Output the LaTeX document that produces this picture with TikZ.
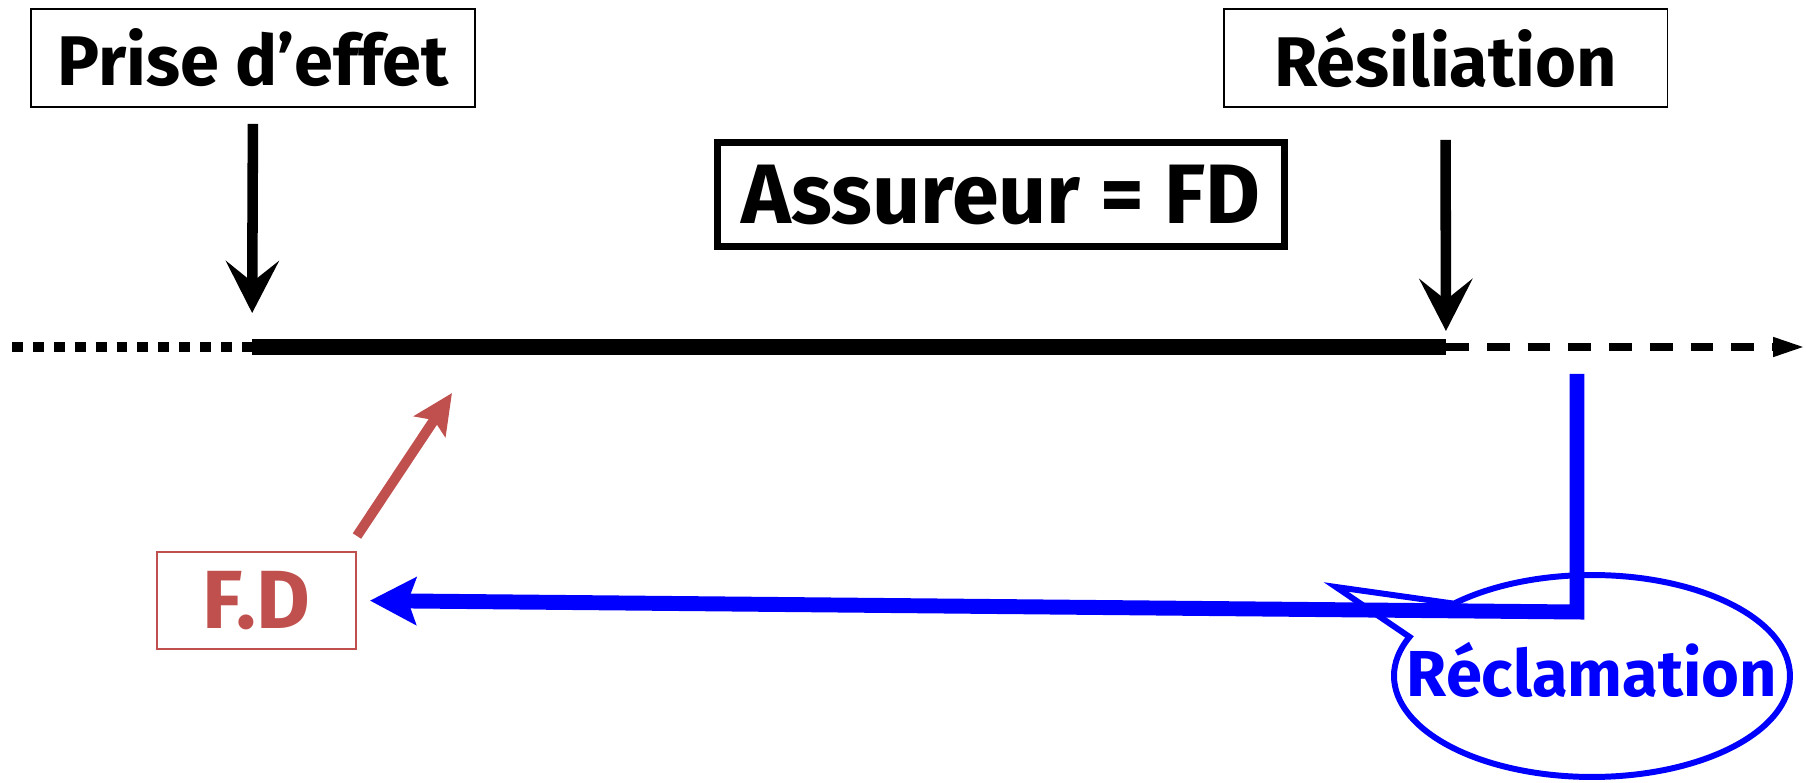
\documentclass[tikz,border=0pt]{standalone}
\usepackage{fontspec}
\setmainfont{Fira Sans}
\usetikzlibrary{arrows.meta,shapes.callouts}
\definecolor{fdred}{RGB}{192,80,77}
\definecolor{reclblue}{RGB}{0,0,255}

\begin{document}
\begin{tikzpicture}[
  x=0.02cm, y=-0.02cm,
  every node/.style={font=\fontsize{40}{44}\selectfont\bfseries},
  datebox/.style={draw, line width=1.1pt, inner sep=0pt,
    minimum width=8.88cm, minimum height=1.96cm},
  rolebox/.style={draw, line width=4pt, inner sep=0pt,
    minimum width=11.34cm, minimum height=2.08cm,
    font=\fontsize{48}{52}\selectfont\bfseries},
  fdbox/.style={draw=fdred, text=fdred, line width=1.1pt, inner sep=0pt,
    minimum width=3.98cm, minimum height=1.94cm,
    font=\fontsize{47}{50}\selectfont\bfseries},
  claim/.style={ellipse callout, draw=reclblue, text=reclblue,
    line width=3.4pt, inner sep=0pt, callout pointer arc=23,
    minimum width=7.92cm, minimum height=4.04cm,
    font=\fontsize{37}{40}\selectfont\bfseries},
  downarr/.style={-{Stealth[length=1.04cm, width=1.06cm, inset=0.42cm]}, line width=6pt},
  bluearr/.style={-{Stealth[length=0.92cm, width=0.94cm, inset=0.16cm]}, draw=reclblue, line width=8.5pt},
  redarr/.style={-{Stealth[length=0.8cm, width=0.74cm, inset=0.15cm]}, draw=fdred, line width=5.7pt},
  dotline/.style={line width=6.2pt, dash pattern=on 6.2pt off 5.7pt},
  dashline/.style={-{Triangle[length=0.64cm, width=0.36cm]}, line width=4pt, dash pattern=on 13pt off 10.2pt},
]
\useasboundingbox (0,0) rectangle (1806,783);

\node[datebox] at (253,58)    (prise)  {Prise d’effet};
\node[datebox] at (1445.5,58) (resil)  {Résiliation};
\node[rolebox] at (1001,194.5) (assur) {Assureur = FD};
\node[fdbox]   at (256.5,600.5) (fd)   {F.D};

\coordinate (t0)     at (12,347);
\coordinate (tstart) at (252,347);
\coordinate (tend)   at (1446,347);
\coordinate (tfar)   at (1805,347);
\coordinate (recltail)   at (1336,587);
\coordinate (recltop)    at (1577,374);
\coordinate (reclcorner) at (1577,612);
\coordinate (fdtip)      at (452,393);

\node[claim, callout absolute pointer={(recltail)}] at (1592,676) (recl) {\makebox[0pt]{\raisebox{8pt}{Réclamation}}};

\draw[dotline]  (t0) -- (tstart);
\draw[line width=9pt] (tstart) -- (tend);
\draw[dashline] (tend) -- (tfar);
\draw[downarr, shorten <=0.32cm, shorten >=0.68cm] (prise.south) -- (tstart);
\draw[downarr, shorten <=0.64cm, shorten >=0.32cm] (resil.south) -- (tend);
\draw[bluearr, shorten >=0.26cm] (recltop) -- (reclcorner) -- (fd.east);
\draw[redarr] ([yshift=0.3cm]fd.north east) -- (fdtip);
\end{tikzpicture}
\end{document}
